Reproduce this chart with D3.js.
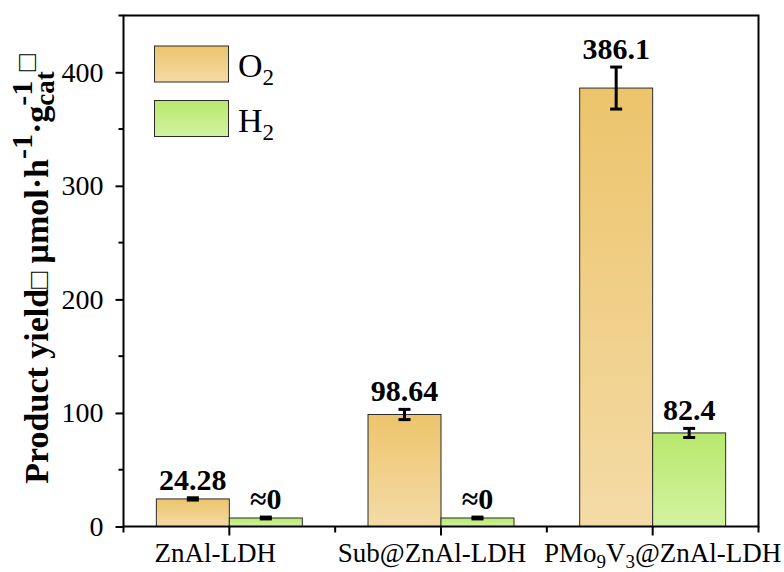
<!DOCTYPE html>
<html>
<head>
<meta charset="utf-8">
<script src="https://cdn.jsdelivr.net/npm/d3@7"></script>
<style>
  html, body { margin: 0; padding: 0; background: #fff; }
  svg { display: block; }
  text { font-family: "Liberation Serif", "Times New Roman", serif; fill: #000; }
</style>
</head>
<body>
<svg id="chart" width="784" height="572"></svg>
<script>
// Samples and measured product yields (μmol·h⁻¹·g⁻¹cat)
const categories = ["ZnAl-LDH", "Sub@ZnAl-LDH", "PMo9V3@ZnAl-LDH"];
const o2Values = [24.28, 98.64, 386.1];
const o2Errors = [1.0, 4.5, 18.5];
const o2Labels = ["24.28", "98.64", "386.1"];
const h2Values = [7.5, 7.5, 82.4];
const h2Errors = [0.8, 0.8, 4.0];
const h2Labels = ["≈0", "≈0", "82.4"];
const yTicks = [0, 100, 200, 300, 400];
const yMinorTicks = [50, 150, 250, 350, 450];

const series = [
  { key: "O2", values: o2Values, errors: o2Errors, labels: o2Labels, c0: "#ecc46b", c1: "#f4dba6" },
  { key: "H2", values: h2Values, errors: h2Errors, labels: h2Labels, c0: "#b8e86d", c1: "#d2f3a1" }
];

const svg = d3.select("#chart");
const plotL = 123.5, plotR = 758.5, plotT = 15.5, plotB = 526.5;

const x = d3.scaleBand().domain(categories).range([plotL, plotR]).padding(0);
const sub = d3.scaleBand().domain(series.map(s => s.key)).range([0, x.bandwidth()]).paddingInner(0).paddingOuter(0.45);
const y = d3.scaleLinear().domain([0, 450]).range([plotB, plotT]);

// vertical gradients for the bar fills
const defs = svg.append("defs");
series.forEach(s => {
  const g = defs.append("linearGradient").attr("id", "grad-" + s.key)
    .attr("x1", 0).attr("y1", 0).attr("x2", 0).attr("y2", 1);
  g.append("stop").attr("offset", "0%").attr("stop-color", s.c0);
  g.append("stop").attr("offset", "100%").attr("stop-color", s.c1);
});

// bars
series.forEach(s => {
  svg.append("g").selectAll("rect").data(categories).join("rect")
    .attr("x", c => x(c) + sub(s.key))
    .attr("width", sub.bandwidth())
    .attr("y", (c, i) => y(s.values[i]))
    .attr("height", (c, i) => y(0) - y(s.values[i]))
    .attr("fill", "url(#grad-" + s.key + ")")
    .attr("stroke", "#2b2b2b").attr("stroke-width", 1);
});

// error bars and value labels
series.forEach(s => {
  categories.forEach((c, i) => {
    const cx = x(c) + sub(s.key) + sub.bandwidth() / 2;
    const hi = y(s.values[i] + s.errors[i]);
    const lo = y(s.values[i] - s.errors[i]);
    const g = svg.append("g").attr("stroke", "#000").attr("stroke-width", 3);
    g.append("line").attr("x1", cx).attr("x2", cx).attr("y1", hi).attr("y2", lo);
    g.append("line").attr("x1", cx - 6).attr("x2", cx + 6).attr("y1", hi).attr("y2", hi);
    g.append("line").attr("x1", cx - 6).attr("x2", cx + 6).attr("y1", lo).attr("y2", lo);
    svg.append("text").attr("x", cx).attr("y", hi - 8)
      .attr("text-anchor", "middle").attr("font-weight", "bold").attr("font-size", 30)
      .text(s.labels[i]);
  });
});

// frame
svg.append("rect").attr("x", plotL).attr("y", plotT).attr("width", plotR - plotL).attr("height", plotB - plotT)
  .attr("fill", "none").attr("stroke", "#000").attr("stroke-width", 2);

// y axis
const yAxis = svg.append("g").attr("transform", `translate(${plotL},0)`)
  .call(d3.axisLeft(y).tickValues(yTicks).tickSize(8).tickPadding(12));
yAxis.select(".domain").remove();
yAxis.selectAll(".tick line").attr("stroke-width", 2);
yAxis.selectAll(".tick text").attr("font-size", 28).attr("font-family", "Liberation Serif, serif");
svg.append("g").attr("transform", `translate(${plotL},0)`)
  .selectAll("line").data(yMinorTicks).join("line")
  .attr("x1", -5).attr("x2", 0).attr("y1", d => y(d)).attr("y2", d => y(d))
  .attr("stroke", "#000").attr("stroke-width", 2);

// x axis: major ticks at group centres, minor ticks at group boundaries
const xAxis = svg.append("g").attr("transform", `translate(0,${plotB})`)
  .call(d3.axisBottom(x).tickSize(9).tickFormat(""));
xAxis.select(".domain").remove();
xAxis.selectAll(".tick line").attr("stroke-width", 2);
const bounds = categories.map(c => x(c)).concat([x(categories[categories.length - 1]) + x.bandwidth()]);
svg.append("g").selectAll("line").data(bounds).join("line")
  .attr("x1", d => d).attr("x2", d => d).attr("y1", plotB).attr("y2", plotB + 6)
  .attr("stroke", "#000").attr("stroke-width", 2);

// category labels (with subscripts in the third one); small nudges keep them apart
const labelParts = {
  "ZnAl-LDH": [["ZnAl-LDH", false]],
  "Sub@ZnAl-LDH": [["Sub@ZnAl-LDH", false]],
  "PMo9V3@ZnAl-LDH": [["PMo", false], ["9", true], ["V", false], ["3", true], ["@ZnAl-LDH", false]]
};
const labelNudge = [-14, -9, 10];
categories.forEach((c, k) => {
  const t = svg.append("text").attr("x", x(c) + x.bandwidth() / 2 + labelNudge[k]).attr("y", 562)
    .attr("text-anchor", "middle").attr("font-size", 27);
  let shifted = false;
  labelParts[c].forEach(([str, isSub]) => {
    const ts = t.append("tspan").text(str);
    if (isSub) { ts.attr("font-size", 19).attr("dy", 6); shifted = true; }
    else if (shifted) { ts.attr("dy", -6); shifted = false; }
  });
});

// legend
const legend = svg.append("g");
series.forEach((s, i) => {
  const ly = 46 + i * 54.5;
  legend.append("rect").attr("x", 154.5).attr("y", ly).attr("width", 74).attr("height", 36)
    .attr("fill", "url(#grad-" + s.key + ")").attr("stroke", "#2b2b2b").attr("stroke-width", 1);
  const t = legend.append("text").attr("x", 238).attr("y", ly + 31).attr("font-size", 34);
  t.append("tspan").text(s.key[0]);
  t.append("tspan").text(s.key[1]).attr("font-size", 23).attr("dy", 8);
});

// y axis title
const title = svg.append("text")
  .attr("transform", "translate(48,269) rotate(-90)")
  .attr("text-anchor", "middle").attr("font-weight", "bold").attr("font-size", 34);
title.append("tspan").text("Product yield");
title.append("tspan").text("□").attr("font-weight", "normal").attr("font-size", 28);
title.append("tspan").text(" μmol·h");
title.append("tspan").text("-1").attr("font-size", 30).attr("dy", -16);
title.append("tspan").text("·g").attr("dy", 16);
title.append("tspan").text("-1").attr("font-size", 30).attr("dy", -16);
title.append("tspan").text("cat").attr("font-size", 27).attr("dx", -25).attr("dy", 22);
title.append("tspan").text("□").attr("font-weight", "normal").attr("font-size", 28).attr("dy", -18);
</script>
</body>
</html>
